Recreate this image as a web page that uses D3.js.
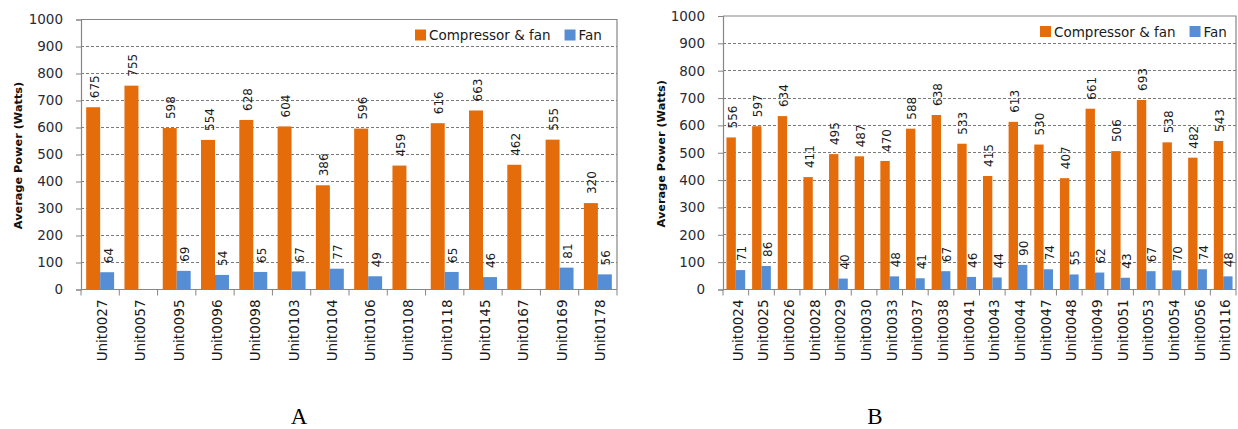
<!DOCTYPE html>
<html>
<head>
<meta charset="utf-8">
<script src="https://cdn.jsdelivr.net/npm/d3@7/dist/d3.min.js"></script>
<style>
  html, body { margin: 0; padding: 0; background: #fff; }
  svg { display: block; }
  text.sans { font-family: "DejaVu Sans", Verdana, sans-serif; }
  text.serif { font-family: "Liberation Serif", "Times New Roman", serif; }
</style>
</head>
<body>
<svg id="chart" width="1238" height="429"></svg>
<script>
// Panel A: average power per unit
const unitsA = ["Unit0027","Unit0057","Unit0095","Unit0096","Unit0098","Unit0103","Unit0104",
                "Unit0106","Unit0108","Unit0118","Unit0145","Unit0167","Unit0169","Unit0178"];
const compFanA = [675, 755, 598, 554, 628, 604, 386, 596, 459, 616, 663, 462, 555, 320];
const fanA     = [64, null, 69, 54, 65, 67, 77, 49, null, 65, 46, null, 81, 56];

// Panel B: average power per unit
const unitsB = ["Unit0024","Unit0025","Unit0026","Unit0028","Unit0029","Unit0030","Unit0033",
                "Unit0037","Unit0038","Unit0041","Unit0043","Unit0044","Unit0047","Unit0048",
                "Unit0049","Unit0051","Unit0053","Unit0054","Unit0056","Unit0116"];
const compFanB = [556, 597, 634, 411, 495, 487, 470, 588, 638, 533, 415, 613, 530, 407,
                  661, 506, 693, 538, 482, 543];
const fanB     = [71, 86, null, null, 40, null, 48, 41, 67, 46, 44, 90, 74, 55,
                  62, 43, 67, 70, 74, 48];

const seriesNames = ["Compressor & fan", "Fan"];
const seriesColors = ["#E46C0A", "#558ED5"];
const yTicks = [0, 100, 200, 300, 400, 500, 600, 700, 800, 900, 1000];
const yTitle = "Average Power (Watts)";
const panelLetters = ["A", "B"];

const svg = d3.select("#chart");
svg.append("rect").attr("width", 1238).attr("height", 429).attr("fill", "#fff");

function drawPanel(opts) {
  const { units, series, left, right, top, bottom, titleX, legendX, letter, letterX } = opts;
  const g = svg.append("g");

  const x = d3.scaleBand().domain(units).range([left, right]).paddingInner(0).paddingOuter(0);
  const x1 = d3.scaleBand().domain(seriesNames).range([0, x.bandwidth()])
    .paddingInner(0).paddingOuter(0.37);
  const y = d3.scaleLinear().domain([0, 1000]).range([bottom, top]);

  // dashed gridlines
  g.append("g").selectAll("line")
    .data(yTicks.filter(t => t > 0 && t < 1000))
    .join("line")
    .attr("x1", left).attr("x2", right)
    .attr("y1", d => y(d)).attr("y2", d => y(d))
    .attr("stroke", "#7a7a7a").attr("stroke-width", 1)
    .attr("stroke-dasharray", "3,2")
    .attr("shape-rendering", "crispEdges");

  // plot frame (top and right)
  g.append("path")
    .attr("d", `M${left},${y(1000)}H${right}V${bottom}`)
    .attr("fill", "none").attr("stroke", "#868686").attr("stroke-width", 1.2);

  // bars
  const rows = units.map((u, i) => ({ unit: u, vals: series.map((s, k) => ({ k, v: s[i] })) }));
  const grp = g.append("g").selectAll("g").data(rows).join("g")
    .attr("transform", d => `translate(${x(d.unit)},0)`);
  grp.selectAll("rect").data(d => d.vals.filter(e => e.v != null)).join("rect")
    .attr("x", e => x1(seriesNames[e.k]))
    .attr("width", x1.bandwidth())
    .attr("y", e => y(e.v))
    .attr("height", e => y(0) - y(e.v))
    .attr("fill", e => seriesColors[e.k]);

  // value labels, rotated
  grp.selectAll("text").data(d => d.vals.filter(e => e.v != null)).join("text")
    .attr("class", "sans")
    .attr("transform", e => `translate(${x1(seriesNames[e.k]) + x1.bandwidth() / 2 + 1.5},${y(e.v) - 9}) rotate(-90)`)
    .attr("dominant-baseline", "central")
    .attr("font-size", 12)
    .attr("fill", "#1a1a1a")
    .text(e => e.v);

  // y axis
  const yAxis = d3.axisLeft(y).tickValues(yTicks).tickFormat(d3.format("d"))
    .tickSize(5).tickPadding(13);
  const ya = g.append("g").attr("transform", `translate(${left},0)`).call(yAxis);
  ya.select(".domain").attr("stroke", "#868686").attr("stroke-width", 1.2);
  ya.selectAll(".tick line").attr("stroke", "#868686");
  ya.selectAll(".tick text").attr("class", "sans").attr("font-size", 13.5).attr("fill", "#2a2a36");

  // x axis: ticks at band boundaries
  const xa = g.append("g");
  xa.append("line").attr("x1", left).attr("x2", right).attr("y1", bottom).attr("y2", bottom)
    .attr("stroke", "#868686").attr("stroke-width", 1.2);
  xa.selectAll("line.tk").data(units.concat([null])).join("line").attr("class", "tk")
    .attr("x1", (d, i) => left + i * x.step()).attr("x2", (d, i) => left + i * x.step())
    .attr("y1", bottom).attr("y2", bottom + 6)
    .attr("stroke", "#868686");
  xa.selectAll("text").data(units).join("text")
    .attr("class", "sans")
    .attr("transform", d => `translate(${x(d) + x.bandwidth() / 2 + 2},${bottom + 10}) rotate(-90)`)
    .attr("text-anchor", "end")
    .attr("dominant-baseline", "central")
    .attr("font-size", 13.5)
    .attr("fill", "#1a1a1a")
    .text(d => d);

  // y title
  g.append("text")
    .attr("class", "sans")
    .attr("transform", `translate(${titleX},${(top + bottom) / 2 + 1}) rotate(-90)`)
    .attr("text-anchor", "middle")
    .attr("dominant-baseline", "central")
    .attr("font-size", 11.3)
    .attr("font-weight", "bold")
    .attr("fill", "#111")
    .text(yTitle);

  // legend
  const lg = g.append("g").attr("transform", `translate(${legendX},${top + 10})`);
  let cx = 0;
  seriesNames.forEach((name, k) => {
    lg.append("rect").attr("x", cx).attr("y", 0).attr("width", 11).attr("height", 11)
      .attr("fill", seriesColors[k]);
    const t = lg.append("text").attr("class", "sans").attr("x", cx + 14).attr("y", 5.5)
      .attr("dominant-baseline", "central")
      .attr("font-size", 13.5).attr("fill", "#1a1a1a").text(name);
    cx += 14 + t.node().getComputedTextLength() + 14;
  });

  // panel letter
  svg.append("text")
    .attr("class", "serif")
    .attr("x", letterX).attr("y", 424)
    .attr("text-anchor", "middle")
    .attr("font-size", 23)
    .attr("fill", "#000")
    .text(letter);
}

drawPanel({
  units: unitsA, series: [compFanA, fanA],
  left: 81, right: 617, top: 19.5, bottom: 289.5,
  titleX: 18, legendX: 415, letter: panelLetters[0], letterX: 299
});
drawPanel({
  units: unitsB, series: [compFanB, fanB],
  left: 723, right: 1236, top: 16, bottom: 289.5,
  titleX: 661, legendX: 1040, letter: panelLetters[1], letterX: 875
});
</script>
</body>
</html>
